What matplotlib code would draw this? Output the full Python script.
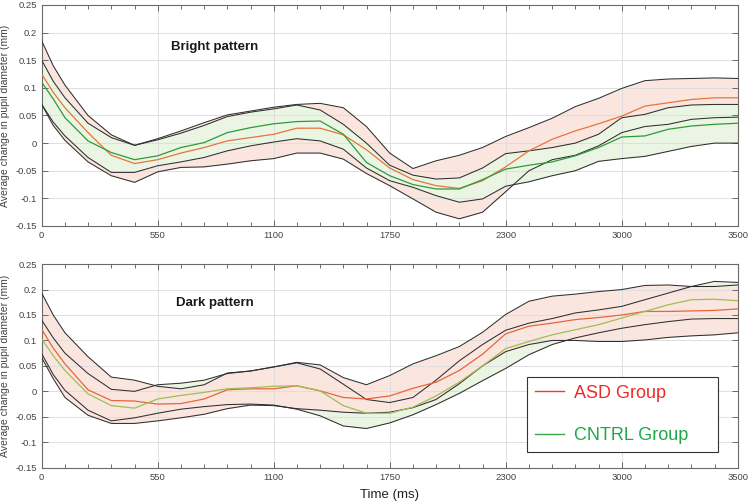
import matplotlib
matplotlib.use("Agg")
import matplotlib.pyplot as plt
from matplotlib.lines import Line2D
from matplotlib.ticker import MultipleLocator
import numpy as np

plt.rcParams['font.family'] = ['Liberation Sans', 'DejaVu Sans']

# time axis (ms), ticks are evenly spaced but labelled as in the original figure
time_ms = [0, 58, 117, 233, 350, 467, 583, 700, 817, 933, 1050, 1167, 1283, 1400, 1517, 1633,
           1750, 1867, 1983, 2100, 2217, 2333, 2450, 2567, 2683, 2800, 2917, 3033, 3150, 3267, 3383, 3500]
x_tick_labels = ['0', '550', '1100', '1750', '2300', '3000', '3500']
y_ticks = [-0.15, -0.1, -0.05, 0, 0.05, 0.1, 0.15, 0.2, 0.25]

# Bright pattern
bright_asd_mean = [0.125, 0.092, 0.064, 0.019, -0.022, -0.037, -0.030, -0.018, -0.008, 0.004, 0.010, 0.016,
                   0.027, 0.027, 0.015, -0.012, -0.045, -0.066, -0.077, -0.082, -0.068, -0.043, -0.014, 0.007,
                   0.022, 0.035, 0.049, 0.067, 0.073, 0.079, 0.082, 0.082]
bright_asd_hi = [0.185, 0.140, 0.105, 0.050, 0.015, -0.004, 0.008, 0.022, 0.037, 0.051, 0.058, 0.065,
                 0.070, 0.072, 0.064, 0.030, -0.018, -0.046, -0.032, -0.022, -0.008, 0.012, 0.028, 0.045,
                 0.066, 0.081, 0.099, 0.113, 0.116, 0.117, 0.118, 0.117]
bright_asd_lo = [0.070, 0.032, 0.005, -0.034, -0.059, -0.071, -0.052, -0.044, -0.043, -0.038, -0.032, -0.028,
                 -0.018, -0.018, -0.029, -0.055, -0.077, -0.101, -0.125, -0.137, -0.125, -0.088, -0.050, -0.030,
                 -0.022, -0.005, 0.019, 0.030, 0.034, 0.043, 0.046, 0.047]
bright_ctl_mean = [0.110, 0.080, 0.046, 0.004, -0.017, -0.030, -0.023, -0.008, 0.001, 0.019, 0.028, 0.035,
                   0.039, 0.040, 0.016, -0.035, -0.059, -0.075, -0.083, -0.083, -0.066, -0.047, -0.040, -0.034,
                   -0.023, -0.008, 0.011, 0.013, 0.025, 0.031, 0.034, 0.036]
bright_ctl_hi = [0.150, 0.112, 0.082, 0.036, 0.010, -0.004, 0.006, 0.018, 0.032, 0.048, 0.056, 0.062,
                 0.069, 0.060, 0.034, 0.000, -0.040, -0.058, -0.065, -0.063, -0.045, -0.019, -0.014, -0.008,
                 0.000, 0.016, 0.046, 0.052, 0.064, 0.069, 0.070, 0.070]
bright_ctl_lo = [0.070, 0.038, 0.013, -0.026, -0.053, -0.053, -0.041, -0.034, -0.026, -0.014, -0.005, 0.002,
                 0.008, 0.004, -0.011, -0.045, -0.068, -0.080, -0.095, -0.107, -0.101, -0.078, -0.070, -0.059,
                 -0.050, -0.033, -0.028, -0.024, -0.015, -0.006, 0.000, 0.000]

# Dark pattern
dark_asd_mean = [0.122, 0.085, 0.054, 0.003, -0.018, -0.019, -0.025, -0.024, -0.015, 0.003, 0.005, 0.005,
                 0.011, 0.001, -0.012, -0.015, -0.009, 0.006, 0.018, 0.041, 0.073, 0.113, 0.128, 0.134,
                 0.141, 0.145, 0.150, 0.157, 0.157, 0.158, 0.159, 0.162]
dark_asd_hi = [0.193, 0.150, 0.115, 0.068, 0.028, 0.022, 0.010, 0.005, 0.013, 0.036, 0.040, 0.048,
               0.057, 0.052, 0.027, 0.013, 0.031, 0.054, 0.070, 0.088, 0.116, 0.151, 0.177, 0.187,
               0.191, 0.196, 0.200, 0.208, 0.209, 0.206, 0.206, 0.209]
dark_asd_lo = [0.066, 0.025, -0.012, -0.047, -0.063, -0.063, -0.058, -0.052, -0.045, -0.034, -0.027, -0.028,
               -0.034, -0.037, -0.041, -0.043, -0.041, -0.032, -0.016, 0.015, 0.050, 0.078, 0.092, 0.100,
               0.100, 0.098, 0.098, 0.101, 0.106, 0.109, 0.111, 0.115]
dark_ctl_mean = [0.103, 0.070, 0.041, -0.005, -0.028, -0.033, -0.015, -0.008, -0.002, 0.005, 0.007, 0.010,
                 0.011, 0.001, -0.028, -0.043, -0.043, -0.031, -0.009, 0.018, 0.050, 0.084, 0.098, 0.111,
                 0.121, 0.131, 0.144, 0.157, 0.170, 0.180, 0.181, 0.178]
dark_ctl_hi = [0.140, 0.105, 0.075, 0.035, 0.004, 0.000, 0.013, 0.016, 0.022, 0.035, 0.040, 0.048,
               0.056, 0.044, 0.014, -0.016, -0.022, -0.012, 0.022, 0.060, 0.092, 0.120, 0.134, 0.143,
               0.154, 0.160, 0.167, 0.180, 0.193, 0.206, 0.216, 0.214]
dark_ctl_lo = [0.074, 0.033, 0.002, -0.037, -0.058, -0.052, -0.043, -0.035, -0.030, -0.026, -0.025, -0.027,
               -0.035, -0.048, -0.068, -0.073, -0.062, -0.046, -0.026, -0.004, 0.021, 0.045, 0.072, 0.092,
               0.105, 0.115, 0.124, 0.131, 0.137, 0.142, 0.143, 0.143]

PINK = '#fbe6df'
LIGHT_GREEN = '#ebf5e3'
BOUND = '#2e2e2e'
TXT = '#444444'


def draw_panel(ax, asd, ctl, title, asd_color, ctl_color, ctl_on_top):
    asd_mean, asd_hi, asd_lo = asd
    ctl_mean, ctl_hi, ctl_lo = ctl
    z_asd, z_ctl = (1.0, 1.2) if ctl_on_top else (1.2, 1.0)
    ax.fill_between(time_ms, asd_lo, asd_hi, color=PINK, lw=0, zorder=z_asd)
    ax.fill_between(time_ms, ctl_lo, ctl_hi, color=LIGHT_GREEN, lw=0, zorder=z_ctl)
    for b in (asd_hi, asd_lo, ctl_hi, ctl_lo):
        ax.plot(time_ms, b, color=BOUND, lw=0.75, zorder=3)
    ax.plot(time_ms, asd_mean, color=asd_color, lw=0.9, zorder=4)
    ax.plot(time_ms, ctl_mean, color=ctl_color, lw=0.9, zorder=4)

    ax.set_xlim(0, 3500)
    ax.set_ylim(-0.15, 0.25)
    ax.set_xticks(np.linspace(0, 3500, len(x_tick_labels)))
    ax.set_xticklabels(x_tick_labels)
    ax.xaxis.set_minor_locator(MultipleLocator(3500 / 30))
    ax.set_yticks(y_ticks)
    ax.set_yticklabels(['%g' % v for v in y_ticks])
    ax.tick_params(which='both', direction='in', top=True, right=True, colors='#555555',
                   labelcolor=TXT, labelsize=6.8, width=0.6)
    ax.tick_params(which='major', length=4)
    ax.tick_params(which='minor', length=3)
    ax.grid(True, which='major', color='#dedede', lw=0.7, zorder=2)
    for s in ax.spines.values():
        s.set_color('#6a6a6a')
        s.set_linewidth(0.8)
    ax.set_ylabel('Average change in pupil diameter (mm)', fontsize=7.5, color=TXT, labelpad=4)
    ax.text(0.249, 0.81, title, transform=ax.transAxes, ha='center', va='center',
            fontsize=9.5, fontweight='bold', color='#1a1a1a')


fig = plt.figure(figsize=(7.5, 5.04), dpi=100)
ax_top = fig.add_axes([0.0556, 0.5516, 0.928, 0.4385])
ax_bot = fig.add_axes([0.0556, 0.072, 0.928, 0.404])

draw_panel(ax_top, (bright_asd_mean, bright_asd_hi, bright_asd_lo),
           (bright_ctl_mean, bright_ctl_hi, bright_ctl_lo),
           'Bright pattern', '#e8743a', '#2f9a3a', ctl_on_top=True)
draw_panel(ax_bot, (dark_asd_mean, dark_asd_hi, dark_asd_lo),
           (dark_ctl_mean, dark_ctl_hi, dark_ctl_lo),
           'Dark pattern', '#e8643a', '#9cbf55', ctl_on_top=False)

ax_bot.set_xlabel('Time (ms)', fontsize=9.5, color='#222222', labelpad=5)

handles = [Line2D([], [], color='#ee3b2b', lw=1.0), Line2D([], [], color='#3aa84a', lw=1.0)]
leg = ax_bot.legend(handles, ['ASD Group', 'CNTRL Group'], loc='lower left',
                    bbox_to_anchor=(0.697, 0.077, 0.275, 0.363), mode='expand', borderaxespad=0,
                    fontsize=13, labelspacing=1.4, handlelength=1.6, handletextpad=0.55,
                    borderpad=0.45, fancybox=False, framealpha=1)
leg.get_frame().set_edgecolor('#333333')
leg.get_frame().set_linewidth(0.8)
leg.set_zorder(10)
for t, c in zip(leg.get_texts(), ['#ee2a2a', '#1fa84a']):
    t.set_color(c)

fig.savefig('out.png', dpi=100)
